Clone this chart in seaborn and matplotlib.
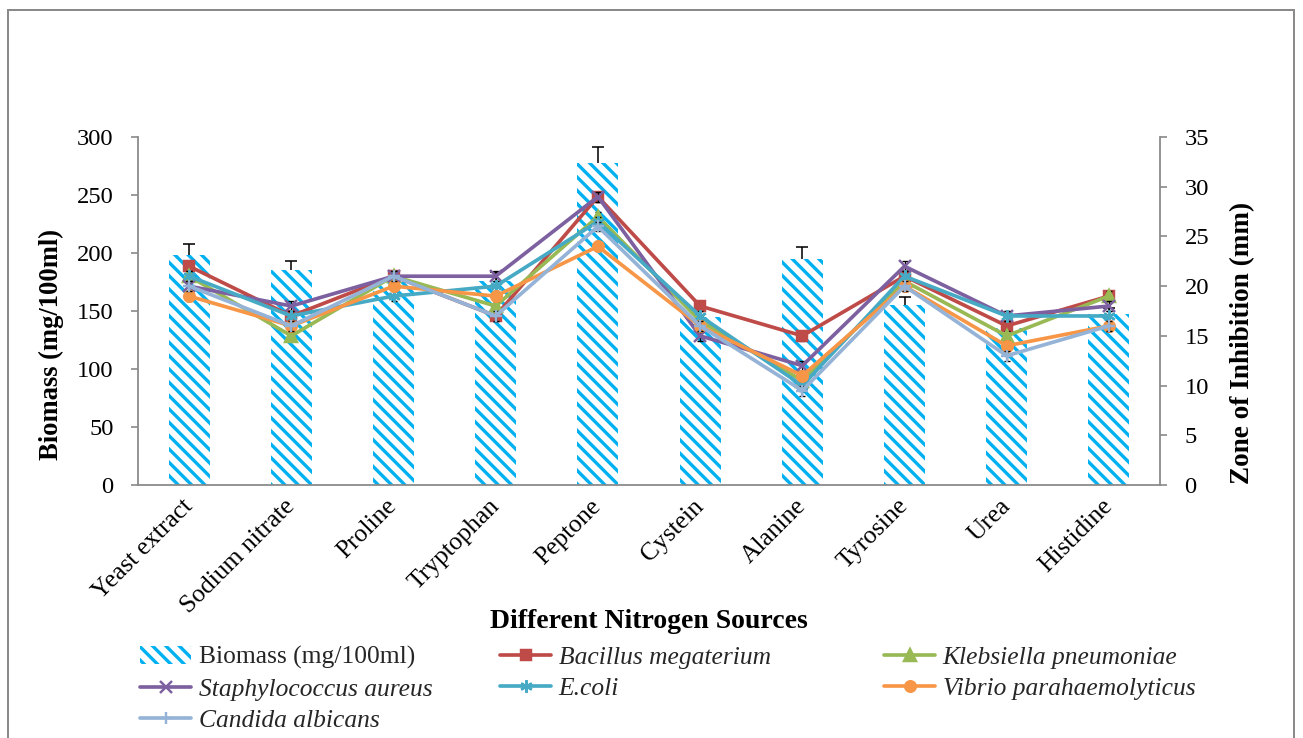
import numpy as np
import matplotlib
matplotlib.use("Agg")
import matplotlib.pyplot as plt
from matplotlib.patches import Rectangle
import seaborn as sns

# ---- data -------------------------------------------------------------
sources = ["Yeast extract", "Sodium nitrate", "Proline", "Tryptophan", "Peptone",
           "Cystein", "Alanine", "Tyrosine", "Urea", "Histidine"]

biomass = [198, 185, 175, 176, 278, 145, 195, 155, 135, 147]        # mg/100ml
biomass_err = [10, 8, 6, 8, 13, 5, 10, 7, 6, 6]

bacillus = [22, 17, 21, 17, 29, 18, 15, 21, 16, 19]                  # mm
klebsiella = [21, 15, 21, 18, 27, 16.5, 10.5, 20.5, 15, 19]
staphylococcus = [20, 18, 21, 21, 29, 15, 12, 22, 17, 18]
ecoli = [21, 17, 19, 20, 26.5, 17, 10, 21, 17, 17]
vibrio = [19, 16, 20, 19, 24, 16, 11, 20, 14, 16]
candida = [20, 16, 21, 17, 26, 16, 9.5, 20, 13, 16]
zone_err = [0.5, 0.5, 0.5, 0.5, 0.5, 0.5, 0.5, 0.5, 0.5, 0.5]

# ---- style ------------------------------------------------------------
sns.set_theme(style="white")
plt.rcParams["font.family"] = ["Liberation Serif", "DejaVu Serif"]
plt.rcParams["hatch.linewidth"] = 3.0
plt.rcParams["axes.linewidth"] = 1.6

W, H, DPI = 1303, 738, 80
GRAY = "#8a8a8a"
BAR_BLUE = "#00B0F0"

fig = plt.figure(figsize=(W / DPI, H / DPI), dpi=DPI)
fig.patch.set_facecolor("white")
ax = fig.add_axes([138 / W, 1 - 485 / H, 1022 / W, 348 / H])

# ---- biomass bars (left axis) -----------------------------------------
sns.barplot(x=sources, y=biomass, ax=ax, color="white", width=0.4,
            errorbar=None, edgecolor=BAR_BLUE, linewidth=0)
for bar in ax.patches:
    bar.set_edgecolor(BAR_BLUE)
    bar.set_linewidth(0)
    bar.set_hatch("\\\\")

pos = np.arange(len(sources))
_, caps, _ = ax.errorbar(pos, biomass, yerr=[np.zeros(len(pos)), biomass_err],
                         fmt="none", ecolor="black", elinewidth=1.4,
                         capsize=5.5, capthick=1.4, zorder=3)
caps[0].set_visible(False)   # plus-direction error bars only

ax.set_xlim(-0.5, len(sources) - 0.5)
ax.set_ylim(0, 300)
ax.set_yticks(range(0, 301, 50))

# ---- inhibition-zone lines (right axis) --------------------------------
ax2 = ax.twinx()
series = [
    ("Bacillus megaterium", bacillus, "#BE4B48", "s", 9),
    ("Klebsiella pneumoniae", klebsiella, "#98B954", "^", 10),
    ("Staphylococcus aureus", staphylococcus, "#7D60A0", "x", 10),
    ("E.coli", ecoli, "#46AAC5", (6, 2, 0), 11),
    ("Vibrio parahaemolyticus", vibrio, "#F79646", "o", 9.5),
    ("Candida albicans", candida, "#95B3D7", "+", 11),
]
line_handles = {}
for name, vals, color, marker, ms in series:
    ax2.errorbar(pos, vals, yerr=zone_err, fmt="none", ecolor="black",
                 elinewidth=1.2, capsize=3, capthick=1.2)
    sns.lineplot(x=pos, y=vals, ax=ax2, color=color, marker=marker,
                 linewidth=3.3, markersize=ms, markeredgecolor=color,
                 markerfacecolor=color, markeredgewidth=2.2, legend=False)
    line_handles[name] = ax2.lines[-1]

ax2.set_ylim(0, 35)
ax2.set_yticks(range(0, 36, 5))

# ---- axes cosmetics ---------------------------------------------------
for side in ("top", "right"):
    ax.spines[side].set_visible(False)
for side in ("left", "bottom"):
    ax.spines[side].set_color(GRAY)
    ax.spines[side].set_linewidth(1.6)
for side in ("top", "left", "bottom"):
    ax2.spines[side].set_visible(False)
ax2.spines["right"].set_color(GRAY)
ax2.spines["right"].set_linewidth(1.6)

ax.tick_params(axis="y", left=True, direction="out", length=6, width=1.5,
               color=GRAY, pad=16, labelsize=22, labelcolor="black")
ax2.tick_params(axis="y", right=True, direction="out", length=6, width=1.5,
                color=GRAY, pad=16, labelsize=22, labelcolor="black")
ax.tick_params(axis="x", bottom=False, length=0, pad=16, labelsize=23,
               labelcolor="black")
ax.set_xticks(pos, sources)
for t in ax.get_xticklabels():
    t.set_rotation(45)
    t.set_ha("right")
    t.set_va("center")
    t.set_rotation_mode("anchor")

ax.set_ylabel("Biomass (mg/100ml)", fontsize=24, fontweight="bold",
              color="black", rotation=90, ha="center", va="center",
              rotation_mode="anchor")
ax.yaxis.set_label_coords(-0.085, 0.405)
ax2.set_ylabel("Zone of Inhibition (mm)", fontsize=24.5, fontweight="bold",
               color="black", rotation=90, ha="center", va="center",
               rotation_mode="anchor")
ax2.yaxis.set_label_coords(1.081, 0.408)
ax.set_xlabel("Different Nitrogen Sources", fontsize=25, fontweight="bold",
              color="black", va="center")
ax.xaxis.set_label_coords(0.5, -0.391)

# ---- legend, laid out in three columns --------------------------------
columns = [
    (140, [(ax.patches[0], "Biomass (mg/100ml)", False),
           (line_handles["Staphylococcus aureus"], "Staphylococcus aureus", True),
           (line_handles["Candida albicans"], "Candida albicans", True)]),
    (500, [(line_handles["Bacillus megaterium"], "Bacillus megaterium", True),
           (line_handles["E.coli"], "E.coli", True)]),
    (884, [(line_handles["Klebsiella pneumoniae"], "Klebsiella pneumoniae", True),
           (line_handles["Vibrio parahaemolyticus"], "Vibrio parahaemolyticus", True)]),
]
for x_px, entries in columns:
    leg = fig.legend([e[0] for e in entries], [e[1] for e in entries],
                     loc="upper left", bbox_to_anchor=(x_px / W, 1 - 646 / H),
                     frameon=False, fontsize=23, handlelength=2.0,
                     handletextpad=0.3, labelspacing=0.33, borderpad=0,
                     borderaxespad=0)
    for txt, italic in zip(leg.get_texts(), [e[2] for e in entries]):
        if italic:
            txt.set_style("italic")

# ---- outer chart frame ------------------------------------------------
fig.add_artist(Rectangle((8 / W, -0.05), (1294 - 8) / W, (1 - 10 / H) + 0.05,
                         transform=fig.transFigure, fill=False,
                         edgecolor=GRAY, linewidth=1.8))

fig.savefig("out.png", dpi=DPI)
